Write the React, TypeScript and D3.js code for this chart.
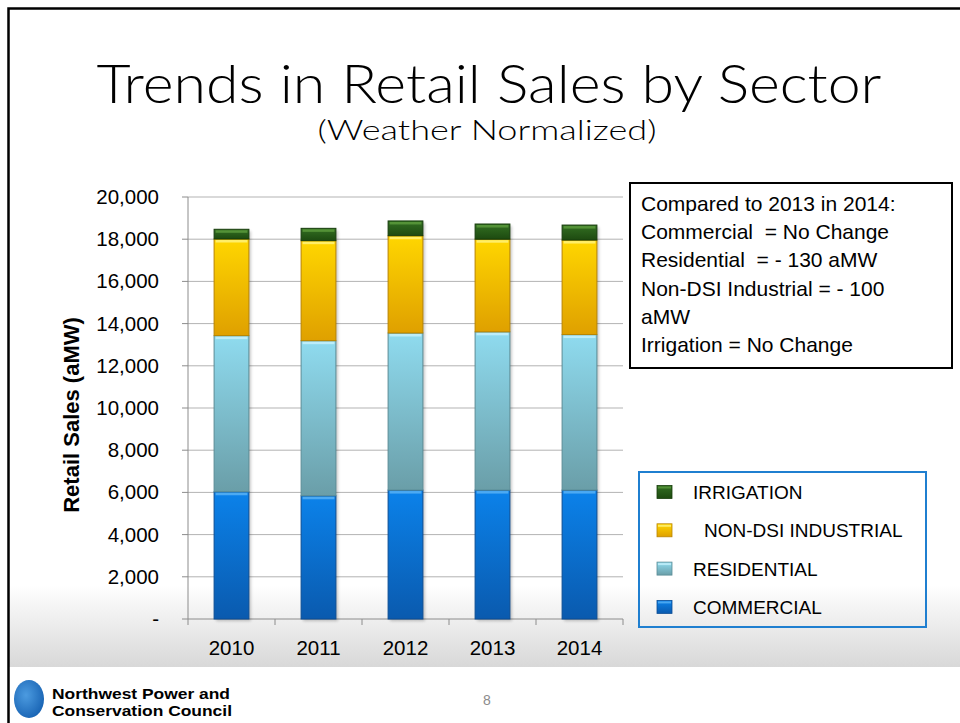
import React from "react";
import * as d3 from "d3";

const years = ["2010", "2011", "2012", "2013", "2014"];
const commercial = [6030, 5840, 6110, 6110, 6110];
const residential = [7400, 7350, 7445, 7500, 7370];
const industrial = [4580, 4740, 4610, 4390, 4480];
const irrigation = [460, 585, 700, 720, 710];
const yTicks = [0, 2000, 4000, 6000, 8000, 10000, 12000, 14000, 16000, 18000, 20000];
const seriesNames = ["COMMERCIAL", "RESIDENTIAL", "NON-DSI INDUSTRIAL", "IRRIGATION"];
const noteLines = [
  "Compared to 2013 in 2014:",
  "Commercial  = No Change",
  "Residential  = - 130 aMW",
  "Non-DSI Industrial = - 100",
  "aMW",
  "Irrigation = No Change",
];

const palette = [
  { id: "gCom", top: "#0b82ea", bot: "#0a5aae", hi: "#58b2f4", edge: "#0a4d94" },
  { id: "gRes", top: "#8fdbef", bot: "#6a9ea8", hi: "#c4f0fb", edge: "#5a8c96" },
  { id: "gInd", top: "#ffd600", bot: "#dfa000", hi: "#fff27a", edge: "#b98400" },
  { id: "gIrr", top: "#336f22", bot: "#1d4a10", hi: "#5a9a3c", edge: "#173d0c" },
];

const FONT = "'Liberation Sans', Arial, sans-serif";

export default function App() {
  const x = d3.scaleBand<string>().domain(years).range([188, 623]).paddingInner(0.6).paddingOuter(0.3);
  const y = d3.scaleLinear().domain([0, 20000]).range([619, 197]);
  const stackData = years.map((yr, i) => ({
    year: yr,
    COMMERCIAL: commercial[i],
    RESIDENTIAL: residential[i],
    "NON-DSI INDUSTRIAL": industrial[i],
    IRRIGATION: irrigation[i],
  }));
  const stacked = d3.stack<any>().keys(seriesNames)(stackData);
  const step = x.step();
  const bw = x.bandwidth();

  const legendOrder = [3, 2, 1, 0];

  return (
    <svg width={960} height={723} style={{ position: "absolute", left: 0, top: 0, background: "#fff" }}>
      <defs>
        <linearGradient id="band" x1="0" y1="0" x2="0" y2="1">
          <stop offset="0" stopColor="#ffffff" />
          <stop offset="1" stopColor="#d8d8d8" />
        </linearGradient>
        {palette.map((p) => (
          <linearGradient key={p.id} id={p.id} x1="0" y1="0" x2="0" y2="1">
            <stop offset="0" stopColor={p.top} />
            <stop offset="1" stopColor={p.bot} />
          </linearGradient>
        ))}
        <radialGradient id="globe" cx="0.4" cy="0.4" r="0.7">
          <stop offset="0" stopColor="#4c9be0" />
          <stop offset="1" stopColor="#145fb0" />
        </radialGradient>
        <filter id="shadow" x="-20%" y="-5%" width="150%" height="120%">
          <feGaussianBlur stdDeviation="1.5" />
        </filter>
      </defs>

      {/* gray band */}
      <rect x={9} y={585} width={951} height={82} fill="url(#band)" />

      {/* slide border */}
      <path d="M960,8.5 H8.5 V723" fill="none" stroke="#000" strokeWidth={2.5} />

      {/* title */}
      <text x={489} y={103} textAnchor="middle" fontFamily="'Lato', 'DejaVu Sans', sans-serif" fontWeight={300}
        fontSize={54} fill="#000" textLength={785} lengthAdjust="spacingAndGlyphs">
        Trends in Retail Sales by Sector
      </text>
      <text x={487} y={140} textAnchor="middle" fontFamily="'Lato', 'DejaVu Sans', sans-serif" fontWeight={300}
        fontSize={27} fill="#000" textLength={339} lengthAdjust="spacingAndGlyphs">
        (Weather Normalized)
      </text>

      {/* gridlines */}
      {yTicks.map((t) => (
        <g key={t}>
          {t > 0 && <line x1={188} x2={623} y1={y(t)} y2={y(t)} stroke="#b3b3b3" strokeWidth={1} />}
          <line x1={182} x2={188} y1={y(t)} y2={y(t)} stroke="#8c8c8c" strokeWidth={1} />
          <text x={159} y={y(t) + 7} textAnchor="end" fontFamily={FONT} fontSize={20.5} fill="#000">
            {t === 0 ? "-" : d3.format(",")(t)}
          </text>
        </g>
      ))}

      {/* axes */}
      <line x1={188} x2={188} y1={197} y2={619} stroke="#8c8c8c" />
      <line x1={188} x2={623} y1={619} y2={619} stroke="#8c8c8c" />
      {d3.range(years.length + 1).map((i) => (
        <line key={i} x1={188 + i * step} x2={188 + i * step} y1={619} y2={625} stroke="#8c8c8c" />
      ))}
      {years.map((yr) => (
        <text key={yr} x={(x(yr) as number) + bw / 2} y={655} textAnchor="middle" fontFamily={FONT} fontSize={20.5} fill="#000">
          {yr}
        </text>
      ))}

      {/* y axis title */}
      <text transform="translate(79,415) rotate(-90)" textAnchor="middle" fontFamily={FONT} fontWeight="bold" fontSize={22} fill="#000">
        Retail Sales (aMW)
      </text>

      {/* bar shadows */}
      {years.map((yr, i) => {
        const top = stacked[3][i][1];
        return (
          <rect key={yr} x={(x(yr) as number) + 2} y={y(top) + 2} width={bw} height={y(0) - y(top)}
            fill="#000" opacity={0.22} filter="url(#shadow)" />
        );
      })}

      {/* bars */}
      {stacked.map((s, si) => {
        const p = palette[si];
        return (
          <g key={s.key}>
            {s.map((d, i) => {
              const x0 = x(years[i]) as number;
              const y1 = y(d[1]);
              const h = y(d[0]) - y(d[1]);
              return (
                <g key={i}>
                  <rect x={x0} y={y1} width={bw} height={h} fill={`url(#${p.id})`} stroke={p.edge} strokeWidth={1} />
                  <rect x={x0 + 1.5} y={y1 + 1} width={bw - 3} height={2.5} fill={p.hi} opacity={0.85} />
                </g>
              );
            })}
          </g>
        );
      })}

      {/* note box */}
      <rect x={630} y={183} width={322} height={185} fill="#fff" stroke="#000" strokeWidth={2} />
      {noteLines.map((l, i) => (
        <text key={i} x={641} y={211 + i * 28.2} fontFamily={FONT} fontSize={21} fill="#000" style={{ whiteSpace: "pre" }}>
          {l}
        </text>
      ))}

      {/* legend */}
      <rect x={639} y={472} width={287} height={155} fill="none" stroke="#1f7fd0" strokeWidth={2} />
      {legendOrder.map((si, k) => {
        const p = palette[si];
        const cy = 492 + k * 38.3;
        return (
          <g key={si}>
            <rect x={657} y={cy - 6.5} width={15} height={13} fill={`url(#${p.id})`} stroke={p.edge} strokeWidth={0.8} />
            <rect x={658} y={cy - 5.5} width={13} height={2} fill={p.hi} opacity={0.8} />
            <text x={si === 2 ? 704 : 693} y={cy + 7} fontFamily={FONT} fontSize={19} fill="#000">
              {seriesNames[si]}
            </text>
          </g>
        );
      })}

      {/* logo */}
      <g>
        <ellipse cx={29} cy={699} rx={15} ry={19} fill="url(#globe)" />
        <text x={52} y={699} fontFamily={FONT} fontWeight="bold" fontSize={15} fill="#000" textLength={178} lengthAdjust="spacingAndGlyphs">
          Northwest Power and
        </text>
        <text x={52} y={716} fontFamily={FONT} fontWeight="bold" fontSize={15} fill="#000" textLength={180} lengthAdjust="spacingAndGlyphs">
          Conservation Council
        </text>
      </g>

      <text x={487} y={705} textAnchor="middle" fontFamily={FONT} fontSize={14} fill="#8c8c8c">8</text>
    </svg>
  );
}
